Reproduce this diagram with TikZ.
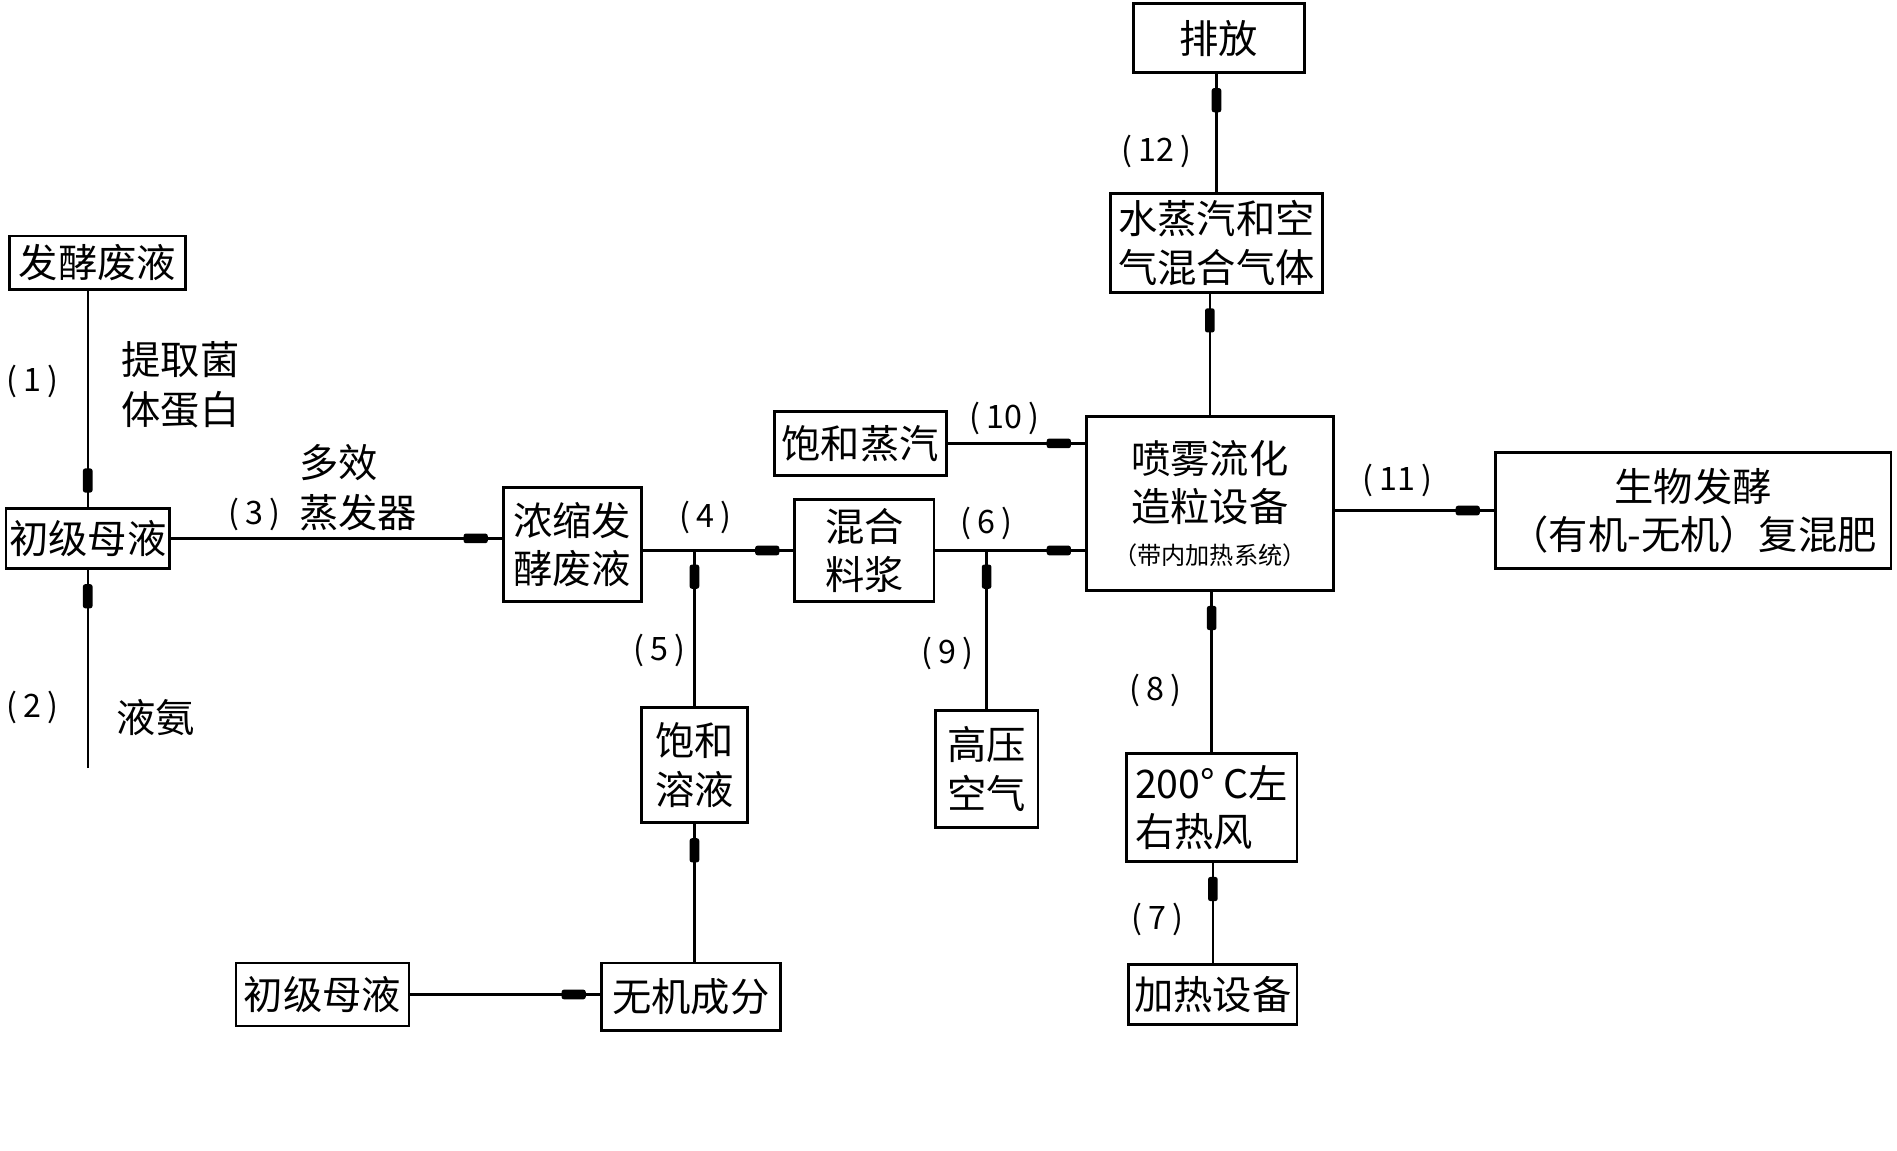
\documentclass[tikz,border=0pt]{standalone}
\usepackage{fontspec}
\newfontfamily\cjk{Noto Sans CJK SC}
\usetikzlibrary{decorations.markings}
\tikzset{
  box/.style={draw, line width=1.4pt, inner sep=0pt, align=center, font=\cjk\fontsize{19.5}{24}\selectfont},
  lbl/.style={inner sep=0pt, font=\cjk\fontsize{16}{19}\selectfont},
  txt/.style={inner sep=0pt, align=left, font=\cjk\fontsize{19.5}{25}\selectfont},
  flow/.style={line width=1.2pt, postaction={decorate},
    decoration={markings, mark=at position -13pt with {\fill[rounded corners=1.2pt] (-6pt,-2.4pt) rectangle (6pt,2.4pt);}}},
}
\newcommand{\pn}[1]{(\kern3pt#1\kern3pt)}
\begin{document}
\begin{tikzpicture}[x=0.6pt,y=-0.6pt]
\useasboundingbox (0,0) rectangle (1568,951);
% boxes
\node[box, minimum width=87pt, minimum height=26.4pt] (fj) at (80.5,217) {发酵废液};
\node[box, minimum width=81pt, minimum height=30pt] (cj1) at (72.5,445) {初级母液};
\node[box, minimum width=68.4pt, minimum height=56.4pt, align=left] (ns) at (473,450) {浓缩发\\酵废液};
\node[box, minimum width=69pt, minimum height=50.4pt] (hh) at (714.5,455) {混合\\料浆};
\node[box, minimum width=85.2pt, minimum height=31.8pt] (bz) at (711,366.5) {饱和蒸汽};
\node[box, minimum width=122.4pt, minimum height=86.4pt] (pw) at (1000,416) {喷雾流化\\造粒设备\\[-3pt]{\fontsize{12}{14}\selectfont （带内加热系统）}};
\node[box, minimum width=105pt, minimum height=49.2pt] (sq) at (1005.5,201) {水蒸汽和空\\气混合气体};
\node[box, minimum width=84.6pt, minimum height=34.2pt] (pf) at (1007.5,31.5) {排放};
\node[box, minimum width=196.2pt, minimum height=57.6pt] (sw) at (1399.5,422) {生物发酵\\（有机-无机）复混肥};
\node[box, minimum width=52.8pt, minimum height=57pt] (br) at (574,632.5) {饱和\\溶液};
\node[box, minimum width=51pt, minimum height=58.2pt] (gy) at (815.5,635.5) {高压\\空气};
\node[box, minimum width=84.6pt, minimum height=53.4pt, align=left] (rf) at (1001.5,667.5) {200° C左\\右热风};
\node[box, minimum width=83.4pt, minimum height=30pt] (jr) at (1002.5,822) {加热设备};
\node[box, minimum width=85.8pt, minimum height=31.2pt] (cj2) at (266.5,822) {初级母液};
\node[box, minimum width=88.8pt, minimum height=33.6pt] (wj) at (571,824) {无机成分};
\coordinate (nh) at (72.5,635);
% connectors
\draw[flow] (fj.south -| cj1.north) -- (cj1.north);
\draw[flow] (nh) -- (cj1.south);
\draw[flow] (cj1.east) -- (cj1.east -| ns.west);
\draw[flow] (ns.east |- hh.west) -- (hh.west);
\draw[flow] (br.north) -- (br.north |- hh.west);
\draw[flow] (wj.north -| br.south) -- (br.south);
\draw[flow] (cj2.east) -- (cj2.east -| wj.west);
\draw[flow] (hh.east) -- (hh.east -| pw.west);
\draw[flow] (gy.north) -- (gy.north |- hh.east);
\draw[flow] (bz.east) -- (bz.east -| pw.west);
\draw[flow] (jr.north) -- (jr.north |- rf.south);
\draw[flow] (rf.north) -- (rf.north |- pw.south);
\draw[flow] (pw.north) -- (pw.north |- sq.south);
\draw[flow] (sq.north) -- (sq.north |- pf.south);
\draw[flow] (pw.east |- sw.west) -- (sw.west);
% labels
\node[lbl] (l1) at (27,315) {\pn{1}};
\node[txt, anchor=west] (t1) at (100,318) {提取菌\\体蛋白};
\node[lbl] (l2) at (27,585) {\pn{2}};
\node[txt, anchor=west] (t2) at (96,593) {液氨};
\node[lbl] (l3) at (210,425) {\pn{3}};
\node[txt, anchor=west] (t3) at (247,403) {多效\\蒸发器};
\node[lbl] (l4) at (583,428) {\pn{4}};
\node[lbl] (l5) at (545,538) {\pn{5}};
\node[lbl] (l6) at (815,433) {\pn{6}};
\node[lbl] (l7) at (957,760) {\pn{7}};
\node[lbl] (l8) at (955,571) {\pn{8}};
\node[lbl] (l9) at (783,540) {\pn{9}};
\node[lbl] (l10) at (830,346) {\pn{10}};
\node[lbl] (l11) at (1155,397) {\pn{11}};
\node[lbl] (l12) at (956,125) {\pn{12}};
\end{tikzpicture}
\end{document}
